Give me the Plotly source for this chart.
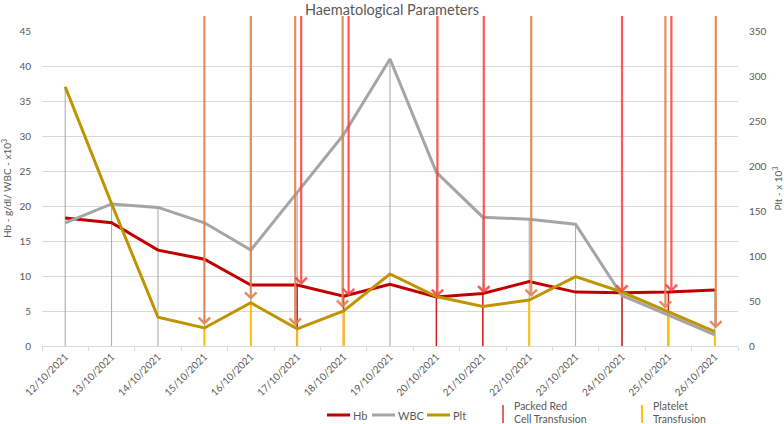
import plotly.graph_objects as go

# ---------------- data ----------------
dates = ["12/10/2021", "13/10/2021", "14/10/2021", "15/10/2021", "16/10/2021",
         "17/10/2021", "18/10/2021", "19/10/2021", "20/10/2021", "21/10/2021",
         "22/10/2021", "23/10/2021", "24/10/2021", "25/10/2021", "26/10/2021"]
hb = [18.3, 17.6, 13.7, 12.4, 8.7, 8.7, 7.1, 8.8, 7.0, 7.5, 9.2, 7.7, 7.6, 7.7, 8.0]
wbc = [17.6, 20.3, 19.8, 17.6, 13.7, 22.0, 30.2, 41.0, 24.8, 18.4, 18.1, 17.4, 7.2, 4.4, 1.6]
plt_vals = [288, 158, 32, 20, 48, 19, 39, 80, 55, 44, 51, 77, 60, 38, 16]

# transfusion events
prc_dates = ["17/10/2021", "18/10/2021", "20/10/2021", "21/10/2021", "24/10/2021", "25/10/2021"]
prc_shift = [4, 5, 1, 1, 0, 3]
plt_tx_dates = ["15/10/2021", "16/10/2021", "17/10/2021", "18/10/2021", "22/10/2021", "25/10/2021", "26/10/2021"]
plt_tx_shift = [0, 0, -2, -1, 2, -3, 1]

left_ticks = list(range(0, 50, 5))
right_ticks = list(range(0, 400, 50))

LEFT_MAX = 45
RIGHT_MAX = 350
ARROW_TOP_L = 47.3
ARROW_TOP_R = ARROW_TOP_L * RIGHT_MAX / LEFT_MAX
K = LEFT_MAX / RIGHT_MAX  # right-axis -> left-axis units

TXT = "#595959"
GRID = "#D9D9D9"
FONT = "Lato"

C_HB = "#C00000"
C_WBC = "#A5A5A5"
C_PLT = "#BF9400"
C_RED_ARROW = "rgba(255,60,60,0.85)"
C_ORANGE_ARROW = "rgba(225,130,80,0.9)"
C_PLT_TX = "#FFC000"

fig = go.Figure()

fig.add_trace(go.Scatter(x=dates, y=hb, name="Hb", mode="lines",
                         line=dict(color=C_HB, width=3), yaxis="y"))
fig.add_trace(go.Scatter(x=dates, y=wbc, name="WBC", mode="lines",
                         line=dict(color=C_WBC, width=3), yaxis="y"))
fig.add_trace(go.Scatter(x=dates, y=plt_vals, name="Plt", mode="lines",
                         line=dict(color=C_PLT, width=3), yaxis="y2"))

shapes = []
# drop lines (gray) from highest point of each category to axis
for i, d in enumerate(dates):
    top = max(hb[i], wbc[i], plt_vals[i] * K)
    shapes.append(dict(type="line", xref="x", yref="y", x0=d, x1=d, y0=0, y1=top,
                       line=dict(color="#A6A6A6", width=1), layer="between"))
# packed red cell markers below Hb
for d in prc_dates:
    i = dates.index(d)
    shapes.append(dict(type="line", xref="x", yref="y", x0=d, x1=d, y0=0, y1=hb[i],
                       line=dict(color="#D02020", width=1.5), layer="between"))
# platelet transfusion markers below Plt
for d in plt_tx_dates:
    i = dates.index(d)
    shapes.append(dict(type="line", xref="x", yref="y", x0=d, x1=d, y0=0, y1=plt_vals[i] * K,
                       line=dict(color=C_PLT_TX, width=2), layer="between"))

annotations = []
for d, s in zip(plt_tx_dates, plt_tx_shift):
    i = dates.index(d)
    annotations.append(dict(x=d, y=plt_vals[i], xref="x", yref="y2",
                            ax=0, ay=ARROW_TOP_R, axref="pixel", ayref="y2",
                            showarrow=True, arrowhead=4, arrowsize=1, arrowwidth=2.2,
                            arrowcolor=C_ORANGE_ARROW, standoff=3, xshift=s, text=" ",
                            font=dict(size=1), borderpad=0))
for d, s in zip(prc_dates, prc_shift):
    i = dates.index(d)
    annotations.append(dict(x=d, y=hb[i], xref="x", yref="y",
                            ax=0, ay=ARROW_TOP_L, axref="pixel", ayref="y",
                            showarrow=True, arrowhead=4, arrowsize=1, arrowwidth=2.2,
                            arrowcolor=C_RED_ARROW, standoff=0, xshift=s, text=" ",
                            font=dict(size=1), borderpad=0))

# ---- manual legend (pixel helpers) ----
L, R, T, B = 42, 46, 31, 78
W, H = 784, 424
PW, PH = W - L - R, H - T - B


def px(xp):
    return (xp - L) / PW


def py(yp):
    return (H - B - yp) / PH


legend_items = [("Hb", C_HB, 327), ("WBC", C_WBC, 372), ("Plt", C_PLT, 427)]
for name, col, x0 in legend_items:
    shapes.append(dict(type="line", xref="paper", yref="paper", x0=px(x0), x1=px(x0 + 23),
                       y0=py(415), y1=py(415), line=dict(color=col, width=3)))
    annotations.append(dict(x=px(x0 + 24), y=py(415), xref="paper", yref="paper",
                            text=name, showarrow=False, xanchor="left", yanchor="middle",
                            font=dict(family=FONT, size=11, color=TXT)))

side_items = [("Packed Red", "Cell Transfusion", "#E03030", 503, 1.5),
              ("Platelet", "Transfusion", C_PLT_TX, 642, 2)]
for line1, line2, col, x0, w in side_items:
    shapes.append(dict(type="line", xref="paper", yref="paper", x0=px(x0), x1=px(x0),
                       y0=py(405), y1=py(423), line=dict(color=col, width=w)))
    for txt, yc in ((line1, 406), (line2, 418.5)):
        annotations.append(dict(x=px(x0 + 10), y=py(yc), xref="paper", yref="paper",
                                text=txt, showarrow=False, xanchor="left", yanchor="middle",
                                borderpad=0, font=dict(family=FONT, size=10.5, color=TXT)))

fig.update_layout(
    width=W, height=H,
    margin=dict(l=L, r=R, t=T, b=B, autoexpand=False),
    paper_bgcolor="white", plot_bgcolor="white",
    showlegend=False,
    font=dict(family=FONT, color=TXT, size=10),
    title=dict(text="Haematological Parameters", x=392 / W, xanchor="center",
               y=1 - 9.5 / H, yanchor="middle", yref="container",
               font=dict(family=FONT, size=14.5, color=TXT)),
    xaxis=dict(type="category", categoryorder="array", categoryarray=dates,
               range=[-0.5, len(dates) - 0.5],
               tickangle=-45, tickson="boundaries", ticks="outside", ticklen=4,
               tickcolor=GRID, showline=True, linecolor=GRID, linewidth=1,
               showgrid=False, tickfont=dict(size=10, color=TXT)),
    yaxis=dict(range=[0, LEFT_MAX], tickvals=left_ticks, showgrid=True, gridcolor=GRID,
               gridwidth=1, zeroline=False, showline=False, ticks="outside", ticklen=8,
               tickcolor="rgba(0,0,0,0)", tickfont=dict(size=10, color=TXT),
               title=dict(text="Hb - g/dl/ WBC - x10<sup>3</sup>", standoff=8,
                          font=dict(size=10, color=TXT))),
    yaxis2=dict(range=[0, RIGHT_MAX], tickvals=right_ticks, overlaying="y", side="right",
                showgrid=False, zeroline=False, showline=False, ticks="outside", ticklen=8,
                tickcolor="rgba(0,0,0,0)", tickfont=dict(size=10, color=TXT),
                title=dict(text="Plt - x 10<sup>3</sup>", standoff=10,
                           font=dict(size=10, color=TXT))),
    shapes=shapes,
    annotations=annotations,
)

fig.write_html("out.html", config={"displayModeBar": False},
               post_script="document.body.style.margin='0';document.body.style.padding='0';")
